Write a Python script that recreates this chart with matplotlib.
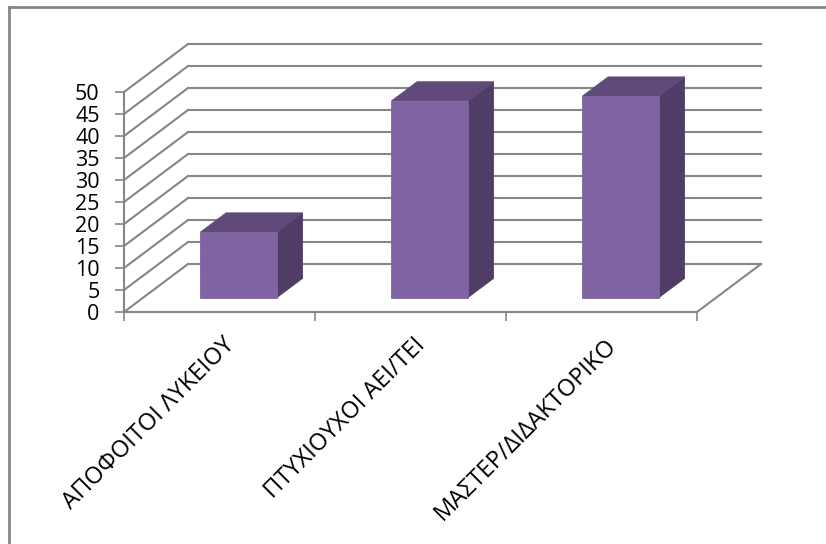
import matplotlib
matplotlib.use('Agg')
import matplotlib.pyplot as plt
from matplotlib.patches import Polygon
from matplotlib.lines import Line2D

plt.rcParams['font.family'] = ['Open Sans', 'DejaVu Sans']

# data
categories = ['ΑΠΟΦΟΙΤΟΙ ΛΥΚΕΙΟΥ', 'ΠΤΥΧΙΟΥΧΟΙ ΑΕΙ/ΤΕΙ', 'ΜΑΣΤΕΡ/ΔΙΔΑΚΤΟΡΙΚΟ']
values = [14.9, 44.7, 45.8]
y_ticks = list(range(0, 51, 5))

# oblique 3d projection: full depth shifts by (DX, DY) in data units
DX = 0.335
DY = 10.9
bar_w = 0.4           # gap width 150%
d0, d1 = 0.3, 0.7     # bar depth range

grid_c = '#868686'
front_c = '#8064A2'
top_c = '#604A7B'
side_c = '#4F3D66'

W, H = 826, 544
fig = plt.figure(figsize=(W / 100, H / 100), dpi=100)
ax = fig.add_axes([124 / W, (H - 312) / H, 573 / W, 220 / H])
ax.set_xlim(0, 3)
ax.set_ylim(0, 50)

# back wall and left wall gridlines
for v in y_ticks:
    ax.plot([DX, 3 + DX], [v + DY, v + DY], color=grid_c, lw=1.5, clip_on=False, zorder=1)
    ax.plot([0, DX], [v, v + DY], color=grid_c, lw=1.5, clip_on=False, zorder=1)
# floor right edge
ax.plot([3, 3 + DX], [0, DY], color=grid_c, lw=1.5, clip_on=False, zorder=1)


def proj(x, y, d):
    return (x + d * DX, y + d * DY)


# bars: front, side, top faces
for i, v in enumerate(values):
    x0 = i + (1 - bar_w) / 2
    x1 = x0 + bar_w
    front = [proj(x0, 0, d0), proj(x1, 0, d0), proj(x1, v, d0), proj(x0, v, d0)]
    side = [proj(x1, 0, d0), proj(x1, 0, d1), proj(x1, v, d1), proj(x1, v, d0)]
    top = [proj(x0, v, d0), proj(x1, v, d0), proj(x1, v, d1), proj(x0, v, d1)]
    for pts, c in [(side, side_c), (top, top_c), (front, front_c)]:
        ax.add_patch(Polygon(pts, closed=True, facecolor=c, edgecolor=c,
                             lw=0.6, clip_on=False, zorder=3))

# axes
for s in ['top', 'right']:
    ax.spines[s].set_visible(False)
for s in ['left', 'bottom']:
    ax.spines[s].set_color(grid_c)
    ax.spines[s].set_linewidth(1.5)
    ax.spines[s].set_zorder(2)
ax.set_yticks(y_ticks)
ax.set_xticks([0, 1, 2, 3])
ax.set_xticklabels([])
ax.tick_params(axis='both', colors=grid_c, length=6.5, width=1.2, direction='out')
ax.tick_params(axis='y', labelcolor='black', labelsize=15.5, pad=11)
ax.patch.set_visible(False)

# rotated category labels
for i, lab in enumerate(categories):
    ax.text(i + 0.56, -6.8, lab, rotation=45, rotation_mode='anchor',
            ha='right', va='center', fontsize=17, color='black', clip_on=False)

# chart frame
fig.add_artist(Line2D([9 / W, 1], [1 - 7 / H, 1 - 7 / H], color=grid_c, lw=2, transform=fig.transFigure))
fig.add_artist(Line2D([9 / W, 9 / W], [0, 1 - 7 / H], color=grid_c, lw=2, transform=fig.transFigure))

fig.savefig('out.png', dpi=100)
